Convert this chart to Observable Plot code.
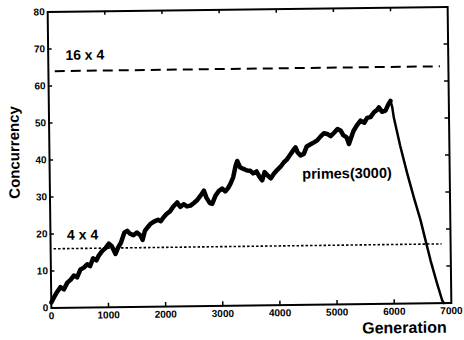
<!DOCTYPE html>
<html><head><meta charset="utf-8">
<script src="https://cdn.jsdelivr.net/npm/d3@7"></script>
<script src="https://cdn.jsdelivr.net/npm/@observablehq/plot@0.6"></script>
<style>
body{margin:0;background:#fff;}
#chart svg{display:block;transform:rotate(-0.72deg);transform-origin:249px 157px;}
</style></head><body><div id="chart"></div>
<script>
// primes(3000) concurrency, rising phase
const riseGen = [0,50,103,164,224,285,345,400,456,517,577,636,688,741,798,841,900,961,1020,1071,1110,1134,1180,1231,1293,1344,1393,1452,1513,1576,1611,1653,1714,1753,1814,1885,1934,1988,2035,2096,2157,2225,2276,2337,2396,2457,2517,2577,2638,2694,2737,2796,2837,2897,2958,3015,3068,3118,3162,3210,3253,3284,3332,3382,3456,3511,3560,3621,3669,3717,3760,3819,3869,3922,3980,4041,4100,4152,4203,4254,4307,4343,4393,4451,4504,4564,4624,4688,4746,4806,4865,4925,4986,5046,5099,5145,5204,5243,5325,5386,5451,5516,5567,5626,5688,5749,5774,5828,5890,5939,5980];
const riseConc = [1.5,2.9,4.3,5.6,5.0,6.8,7.6,8.7,8.2,10.3,10.8,11.7,11.2,13.3,12.7,14.0,15.2,16.0,17.2,16.5,15.2,14.4,16.1,17.4,20.1,20.6,19.8,19.4,20.1,19.3,18.1,20.5,21.7,22.4,23.0,23.5,23.1,24.2,25.0,25.7,27.0,28.1,26.9,27.6,27.0,27.2,27.9,28.7,29.9,31.2,29.3,27.8,27.6,29.8,31.1,31.7,30.9,31.8,33.0,34.7,37.7,39.1,37.4,37.0,36.5,36.4,35.7,36.2,34.8,33.8,36.0,35.0,34.3,35.5,36.5,37.4,38.6,39.3,40.4,41.5,42.6,41.2,40.4,40.8,42.8,43.3,43.8,44.4,45.4,46.3,46.1,45.5,46.4,47.4,47.0,45.7,45.1,43.3,46.8,48.3,49.6,49.0,50.3,50.5,51.8,52.5,53.1,51.9,52.2,53.8,54.8];
// drain phase
const fallGen = [5980,6009,6034,6140,6257,6368,6479,6559,6645,6749,6841,6870];
const fallConc = [54.8,53.1,50.3,42.6,35.1,28.6,22.5,17.2,11.6,5.6,0.7,0];

const xTicks = [0,1000,2000,3000,4000,5000,6000,7000];
const yTicks = [0,10,20,30,40,50,60,70,80];

const refLevel = [64,16];
const refStart = [120,60];
const refEnd = [6860,6850];
const refDash = ["10,6","2.5,2"];
const refWidth = [2,1.6];
const refLabel = ["16 x 4","4 x 4"];
const refLabelX = [300,290];
const refLabelY = [68.2,19.6];

const seriesLabel = ["primes(3000)"];
const seriesLabelX = [4420];
const seriesLabelY = [35.3];

const W = 464, H = 340, mL = 49, mR = 15, mT = 9, mB = 35;
const fw = W - mL - mR, fh = H - mT - mB;
const inner = (a) => a.slice(1, -1);
const font = "'Liberation Sans', Arial, sans-serif";

const chart = Plot.plot({
  width: W, height: H,
  marginLeft: mL, marginRight: mR, marginTop: mT, marginBottom: mB,
  style: {fontFamily: font, fontWeight: "bold", background: "#fff", color: "#000"},
  x: {domain: [0, 7000]},
  y: {domain: [0, 80]},
  marks: [
    Plot.axisX(xTicks, {tickSize: 0, tickPadding: 4, fontSize: 10, fontWeight: "bold", label: null, tickFormat: d => String(d)}),
    Plot.axisY(yTicks, {tickSize: 0, tickPadding: 3, fontSize: 10, fontWeight: "bold", label: null, tickFormat: d => String(d)}),
    Plot.tickX(inner(xTicks), {x: d => d, insetTop: fh - 4, strokeWidth: 1.5}),
    Plot.tickX(inner(xTicks), {x: d => d, insetBottom: fh - 4, strokeWidth: 1.5}),
    Plot.tickY(inner(yTicks), {y: d => d, insetRight: fw - 4, strokeWidth: 1.5}),
    Plot.tickY(inner(yTicks), {y: d => d, insetLeft: fw - 4, strokeWidth: 1.5}),
    Plot.frame({stroke: "#000", strokeWidth: 2}),
    ...refLevel.map((lv, i) => Plot.ruleY([i], {
      y: j => refLevel[j], x1: j => refStart[j], x2: j => refEnd[j],
      stroke: "#000", strokeWidth: refWidth[i], strokeDasharray: refDash[i]
    })),
    Plot.text(d3.range(refLabel.length), {
      x: i => refLabelX[i], y: i => refLabelY[i], text: i => refLabel[i],
      textAnchor: "start", fontSize: 14, fontWeight: "bold", fill: "#000"
    }),
    Plot.line(d3.range(riseGen.length), {
      x: i => riseGen[i], y: i => riseConc[i], stroke: "#000", strokeWidth: 4.5, strokeLinejoin: "round"
    }),
    Plot.line(d3.range(fallGen.length), {
      x: i => fallGen[i], y: i => fallConc[i], stroke: "#000", strokeWidth: 2.5, strokeLinejoin: "round"
    }),
    Plot.text([0], {
      x: i => seriesLabelX[i], y: i => seriesLabelY[i], text: i => seriesLabel[i],
      textAnchor: "start", fontSize: 14.5, fontWeight: "bold", fill: "#000"
    }),
    Plot.text(["Generation"], {frameAnchor: "bottom-right", dx: -5, dy: 29.5, textAnchor: "end", fontSize: 16, fontWeight: "bold", fill: "#000"}),
    Plot.text(["Concurrency"], {frameAnchor: "left", rotate: -90, dx: -35, dy: -8, textAnchor: "middle", fontSize: 15, fontWeight: "bold", fill: "#000"})
  ]
});
document.getElementById("chart").append(chart);
</script></body></html>
